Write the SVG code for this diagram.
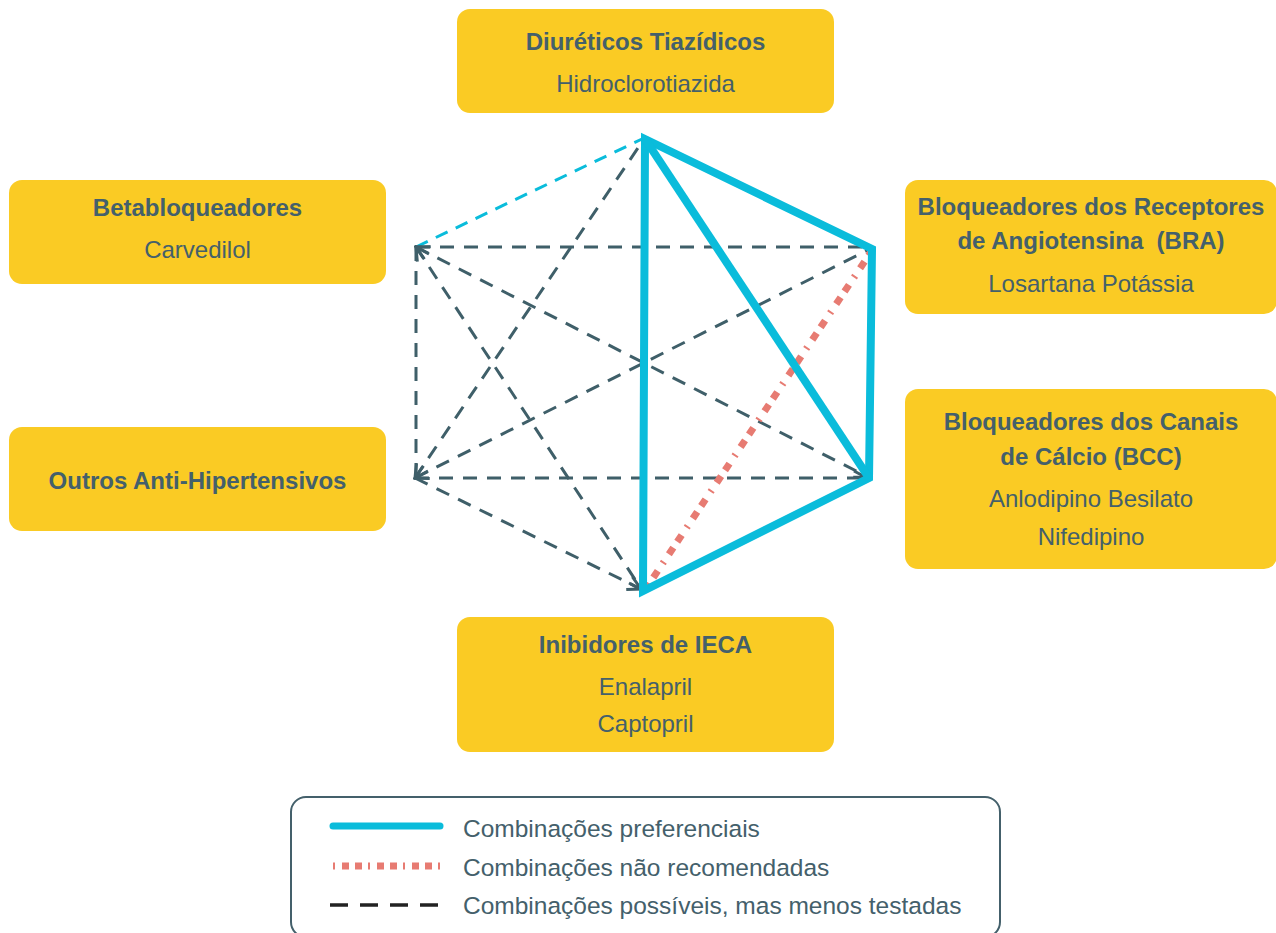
<svg xmlns="http://www.w3.org/2000/svg" width="1276" height="933" viewBox="0 0 1276 933">
<style>
.box{fill:#FACB24;}
.t{font-family:"Liberation Sans",Arial,sans-serif;font-size:24px;fill:#44606B;text-anchor:middle;}
.b{font-weight:bold;}
.lt{font-family:"Liberation Sans",Arial,sans-serif;font-size:24.5px;fill:#44606B;}
.dk{fill:none;stroke:#3F5F69;stroke-width:3;stroke-dasharray:14 10;}
.bd{fill:none;stroke:#0ABCDB;stroke-width:3;stroke-dasharray:13 9;}
.sb{fill:none;stroke:#0ABCDB;stroke-width:8;stroke-linejoin:miter;stroke-miterlimit:10;}
.rd{fill:none;stroke:#E77B72;stroke-width:7;stroke-dasharray:8 7 8 9 2 9;}
.ah{fill:none;stroke:#3F5F69;stroke-width:3;stroke-linecap:butt;}
</style>
<defs>
<marker id="arr" viewBox="-16 -9 18 18" refX="0" refY="0" markerWidth="18" markerHeight="18" markerUnits="userSpaceOnUse" orient="auto-start-reverse">
<path class="ah" d="M-13,-7 L0,0 L-13,7"/>
</marker>
</defs>
<rect width="1276" height="933" fill="#FFFFFF"/>

<g id="connectors">
<path class="bd" d="M416,247 L642,139"/>
<path class="dk" d="M416,247 L866,247"/>
<path class="dk" d="M416,247 L416,478"/>
<path class="dk" d="M416,247 L868,477" marker-start="url(#arr)" marker-end="url(#arr)"/>
<path class="dk" d="M416,247 L642,590" marker-start="url(#arr)" marker-end="url(#arr)"/>
<path class="dk" d="M415,478 L868,250" marker-start="url(#arr)"/>
<path class="dk" d="M415,478 L642,142" marker-start="url(#arr)"/>
<path class="dk" d="M415,478 L867,478" marker-end="url(#arr)"/>
<path class="dk" d="M415,478 L641,589" marker-end="url(#arr)"/>
<path class="rd" d="M645,590 L873,249"/>
<path class="sb" d="M645,139 L872,249 L869,478 L643,591 Z"/>
<path class="sb" d="M645,139 L869,478"/>
</g>

<g id="node-diureticos">
<rect class="box" x="457" y="9" width="377" height="104" rx="13"/>
<text class="t b" x="645.5" y="50">Diuréticos Tiazídicos</text>
<text class="t" x="645.5" y="92">Hidroclorotiazida</text>
</g>

<g id="node-beta">
<rect class="box" x="9" y="180" width="377" height="104" rx="13"/>
<text class="t b" x="197.5" y="216">Betabloqueadores</text>
<text class="t" x="197.5" y="258">Carvedilol</text>
</g>

<g id="node-bra">
<rect class="box" x="905" y="180" width="372" height="134" rx="13"/>
<text class="t b" x="1091" y="215">Bloqueadores dos Receptores</text>
<text class="t b" x="1091" y="249" xml:space="preserve">de Angiotensina  (BRA)</text>
<text class="t" x="1091" y="292">Losartana Potássia</text>
</g>

<g id="node-bcc">
<rect class="box" x="905" y="389" width="372" height="180" rx="13"/>
<text class="t b" x="1091" y="430">Bloqueadores dos Canais</text>
<text class="t b" x="1091" y="465">de Cálcio (BCC)</text>
<text class="t" x="1091" y="507">Anlodipino Besilato</text>
<text class="t" x="1091" y="545">Nifedipino</text>
</g>

<g id="node-outros">
<rect class="box" x="9" y="427" width="377" height="104" rx="13"/>
<text class="t b" x="197.5" y="489">Outros Anti-Hipertensivos</text>
</g>

<g id="node-ieca">
<rect class="box" x="457" y="617" width="377" height="135" rx="13"/>
<text class="t b" x="645.5" y="653">Inibidores de IECA</text>
<text class="t" x="645.5" y="695">Enalapril</text>
<text class="t" x="645.5" y="732">Captopril</text>
</g>

<g id="legend">
<rect x="291" y="797" width="709" height="140" rx="15" fill="#FFFFFF" stroke="#44606B" stroke-width="2"/>
<line x1="333" y1="826" x2="440" y2="826" stroke="#0ABCDB" stroke-width="7" stroke-linecap="round"/>
<text class="lt" x="463" y="837">Combinações preferenciais</text>
<line x1="333" y1="866" x2="440" y2="866" stroke="#E77B72" stroke-width="7" stroke-dasharray="2 7 7 6 7 6"/>
<text class="lt" x="463" y="876">Combinações não recomendadas</text>
<line x1="330" y1="905" x2="442" y2="905" stroke="#222222" stroke-width="3.5" stroke-dasharray="18 12"/>
<text class="lt" x="463" y="914">Combinações possíveis, mas menos testadas</text>
</g>
</svg>
